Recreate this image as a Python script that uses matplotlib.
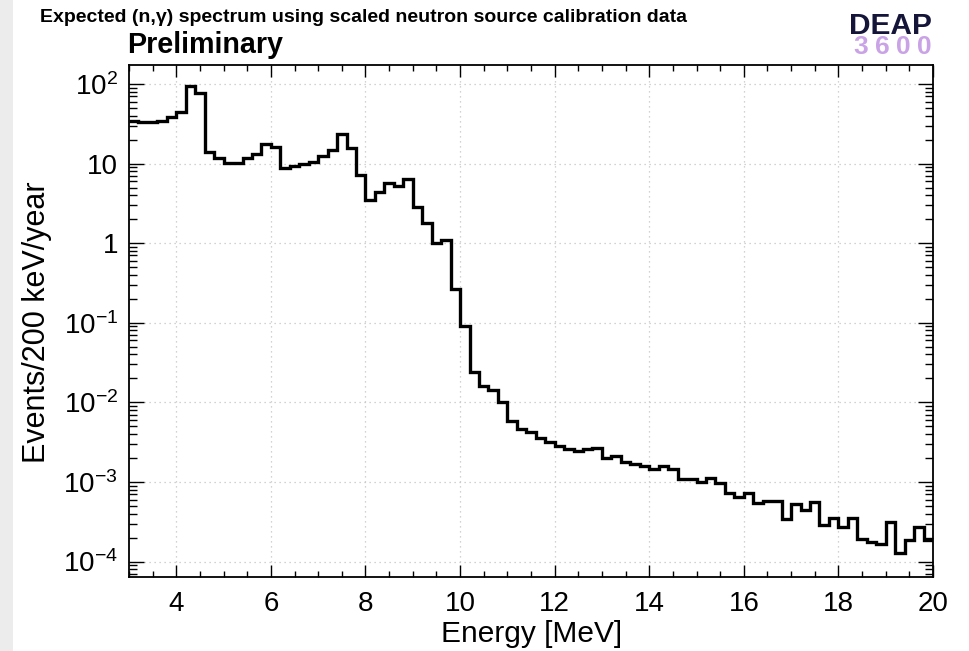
import numpy as np
import matplotlib
matplotlib.use("Agg")
import matplotlib.pyplot as plt
from matplotlib.ticker import FixedLocator, NullFormatter, FixedFormatter, MultipleLocator
from matplotlib.patches import Rectangle

plt.rcParams['font.family'] = ['Liberation Sans', 'DejaVu Sans']
plt.rcParams['mathtext.fontset'] = 'custom'
plt.rcParams['mathtext.rm'] = 'Liberation Sans'
plt.rcParams['mathtext.it'] = 'Liberation Sans:italic'
plt.rcParams['mathtext.bf'] = 'Liberation Sans:bold'

# ---- data ----
e_min = 3.0
e_max = 20.0
events = [34.6, 33.0, 33.0, 34.6, 38.9, 44.1, 95.2, 76.4, 14.1, 11.6,
          10.1, 10.1, 11.6, 13.2, 17.6, 16.0, 8.7, 9.3, 9.9, 10.4,
          12.6, 14.8, 23.3, 15.6, 7.19, 3.49, 4.36, 5.70, 5.28, 6.41,
          2.88, 1.78, 0.997, 1.10, 0.266, 0.0912, 0.0239, 0.0162, 0.0143, 0.0102,
          0.00589, 0.00461, 0.00429, 0.00360, 0.00321, 0.00283, 0.00260, 0.00245, 0.00257, 0.00265,
          0.00199, 0.00209, 0.00180, 0.00168, 0.00160, 0.00146, 0.00160, 0.00146, 0.00108, 0.00108,
          0.00101, 0.00113, 0.000963, 0.000735, 0.000655, 0.000735, 0.000540, 0.000577, 0.000577, 0.000343,
          0.000530, 0.000445, 0.000556, 0.000288, 0.000350, 0.000275, 0.000350, 0.000192, 0.000178, 0.000165,
          0.000317, 0.000129, 0.000187, 0.000275, 0.000187]
x_ticks = [4, 6, 8, 10, 12, 14, 16, 18, 20]
y_ticks = [1e-4, 1e-3, 1e-2, 1e-1, 1, 10, 100]
y_tick_labels = [r'$10^{-4}$', r'$10^{-3}$', r'$10^{-2}$', r'$10^{-1}$', '1', '10', r'$10^{2}$']
title_text = 'Expected (n,γ) spectrum using scaled neutron source calibration data'
x_label = 'Energy [MeV]'
y_label = 'Events/200 keV/year'

edges = np.linspace(e_min, e_max, len(events) + 1)

W, H = 969, 651
fig = plt.figure(figsize=(W / 100, H / 100), dpi=100)
fig.patch.set_facecolor('white')
fig.patches.append(Rectangle((0, 0), 12.5 / W, 1, transform=fig.transFigure,
                             facecolor='#ececec', edgecolor='none', zorder=0))

ax = fig.add_axes([129 / W, 1 - 577 / H, (933 - 129) / W, (577 - 65) / H])
ax.set_yscale('log')
ax.stairs(events, edges, color='black', linewidth=2.4, baseline=None, zorder=3)

ax.set_xlim(e_min, e_max)
ax.set_ylim(6.4e-5, 173)

ax.xaxis.set_major_locator(FixedLocator(x_ticks))
ax.xaxis.set_minor_locator(MultipleLocator(0.5))
ax.set_xticklabels([str(t) for t in x_ticks])

ax.yaxis.set_major_locator(FixedLocator(y_ticks))
minors = [m * 10.0 ** d for d in range(-5, 3) for m in range(2, 10)]
ax.yaxis.set_minor_locator(FixedLocator(minors))
ax.yaxis.set_major_formatter(FixedFormatter(y_tick_labels))
ax.yaxis.set_minor_formatter(NullFormatter())

ax.grid(True, which='major', color='#c4c4c4', linestyle=(0, (1, 3)), linewidth=0.9, zorder=1)

for s in ax.spines.values():
    s.set_linewidth(1.3)
    s.set_color('black')

ax.tick_params(axis='both', which='both', direction='in', top=True, right=True,
               width=1.0, color='black')
ax.tick_params(axis='x', which='major', length=8.5, labelsize=20, pad=10)
ax.tick_params(axis='x', which='minor', length=4.5)
ax.tick_params(axis='y', which='major', length=10.5, labelsize=20, pad=8)
ax.tick_params(axis='y', which='minor', length=6)

ax.set_xlabel(x_label, fontsize=21.5)
ax.xaxis.set_label_coords(0.501, -0.084)
ax.set_ylabel(y_label, fontsize=22)
ax.yaxis.set_label_coords(-0.0958, 0.498)

fig.text(40 / W, 1 - 18 / H, title_text, fontsize=14, fontweight='bold',
         ha='left', va='center', color='black')
fig.text(127 / W, 1 - 45 / H, 'Preliminary', fontsize=20.6, fontweight='bold',
         ha='left', va='center', color='black')
fig.text(932 / W, 1 - 34 / H, 'DEAP', fontsize=21.5, fontweight='bold',
         ha='right', va='baseline', color='#15153a')
for i, ch in enumerate('3600'):
    fig.text((861 + i * 21) / W, 1 - 54.5 / H, ch, fontsize=19, fontweight='bold',
             ha='center', va='baseline', color='#c9a3e6')

fig.savefig('out.png', dpi=100)
